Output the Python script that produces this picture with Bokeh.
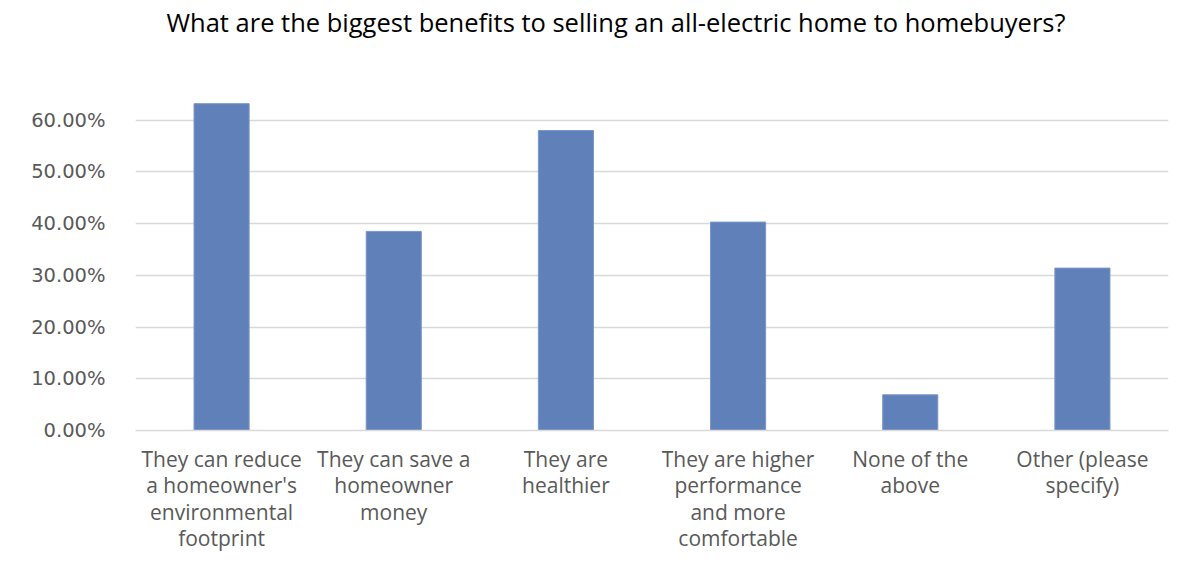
from bokeh.plotting import figure
from bokeh.models import NumeralTickFormatter, FixedTicker, Range1d, Div
from bokeh.layouts import column
from bokeh.embed import file_html
from bokeh.resources import INLINE

title_text = "What are the biggest benefits to selling an all-electric home to homebuyers?"
categories = [
    "They can reduce\na homeowner's\nenvironmental\nfootprint",
    "They can save a\nhomeowner\nmoney",
    "They are\nhealthier",
    "They are higher\nperformance\nand more\ncomfortable",
    "None of the\nabove",
    "Other (please\nspecify)",
]
values = [0.632, 0.385, 0.580, 0.403, 0.069, 0.314]
y_ticks = [0.0, 0.1, 0.2, 0.3, 0.4, 0.5, 0.6]

header = Div(
    text=("<div style=\"width:1232px;text-align:center;font-family:'Open Sans';"
          "font-size:25.5px;line-height:44px;color:#000;white-space:nowrap\">"
          + title_text + "</div>"),
    width=1200, height=44, margin=(0, 0, 0, 0))

p = figure(x_range=categories, y_range=Range1d(0, 0.70), width=1200, height=531,
           output_backend="svg", toolbar_location=None, margin=(0, 0, 0, 0),
           min_border_left=135, min_border_right=32, min_border_top=24, min_border_bottom=145)

p.vbar(x=categories, top=values, width=0.32, color="#6080BA", line_color="#7a96c8")

p.outline_line_color = None
p.background_fill_color = "white"
p.border_fill_color = "white"

p.xgrid.grid_line_color = None
p.ygrid.grid_line_color = "#d9d9d9"
p.ygrid.grid_line_width = 1.5

p.yaxis.ticker = FixedTicker(ticks=y_ticks)
p.yaxis.formatter = NumeralTickFormatter(format="0.00%")
p.yaxis.axis_line_color = None
p.yaxis.major_tick_line_color = None
p.yaxis.minor_tick_line_color = None
p.yaxis.major_label_text_font = "DejaVu Sans"
p.yaxis.major_label_text_font_size = "19.5px"
p.yaxis.major_label_text_color = "#595959"
p.yaxis.major_label_standoff = 24

p.xaxis.axis_line_color = "#d9d9d9"
p.xaxis.axis_line_width = 1.5
p.xaxis.major_tick_line_color = None
p.xaxis.minor_tick_line_color = None
p.xaxis.major_label_text_font = "Open Sans"
p.xaxis.major_label_text_font_size = "21px"
p.xaxis.major_label_text_color = "#595959"
p.xaxis.major_label_text_line_height = 0.95
p.xaxis.major_label_standoff = 8

layout = column(header, p, spacing=0)
open("out.html", "w").write(file_html(layout, INLINE))
